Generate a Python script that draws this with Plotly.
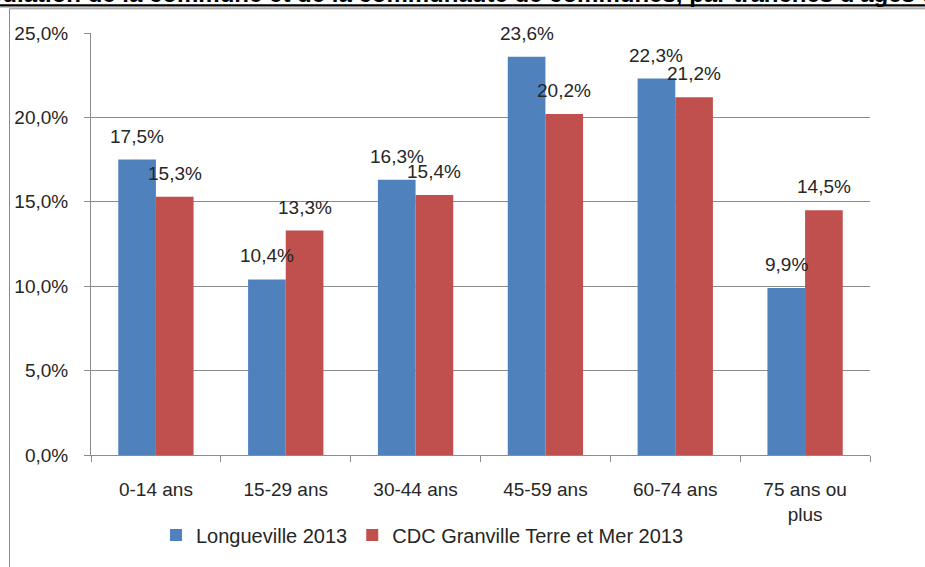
import plotly.graph_objects as go

# Age brackets and shares of population (%)
categories = ["0-14 ans", "15-29 ans", "30-44 ans", "45-59 ans", "60-74 ans", "75 ans ou<br>plus"]
longueville = [17.5, 10.4, 16.3, 23.6, 22.3, 9.9]
cdc_granville = [15.3, 13.3, 15.4, 20.2, 21.2, 14.5]
series_names = ["Longueville 2013", "CDC Granville Terre et Mer 2013"]
y_ticks = [0, 5, 10, 15, 20, 25]
title_text = "Population de la commune et de la communauté de communes, par tranches d'âges en 2013"

BLUE = "#4F81BD"
RED = "#C0504D"
GRID = "#8C8C8C"
TEXT = "#262626"
FONT = "Liberation Sans"

W, H = 925, 567
L, R, T, B = 91, 55, 33, 107
pw, ph = W - L - R, H - T - B


def px_to_paper_x(px):
    return (px - L) / pw


def px_to_paper_y(py):
    return (H - B - py) / ph


def fmt(v):
    return f"{v:.1f}".replace(".", ",") + "%"


fig = go.Figure()
fig.add_trace(go.Bar(x=categories, y=longueville, name=series_names[0],
                     marker=dict(color=BLUE, line=dict(width=0))))
fig.add_trace(go.Bar(x=categories, y=cdc_granville, name=series_names[1],
                     marker=dict(color=RED, line=dict(width=0))))

# Value labels above each bar
bar_w = pw / len(categories) * (1 - 0.42) / 2
annotations = []
for vals, shift in ((longueville, -bar_w / 2), (cdc_granville, bar_w / 2)):
    for c, v in zip(categories, vals):
        annotations.append(dict(
            x=c, y=v, xref="x", yref="y", text=fmt(v), showarrow=False,
            xshift=shift, yshift=11, yanchor="bottom", xanchor="center",
            font=dict(family=FONT, size=19, color=TEXT)))

# Title line, cut at the top edge of the frame
annotations.append(dict(
    x=px_to_paper_x(-45), y=px_to_paper_y(8.6), xref="paper", yref="paper",
    text="<b>" + title_text + "</b>", showarrow=False,
    xanchor="left", yanchor="bottom",
    font=dict(family=FONT, size=24, color="black")))

shapes = [
    # underline of the title
    dict(type="line", xref="paper", yref="paper",
         x0=px_to_paper_x(0), x1=px_to_paper_x(W),
         y0=px_to_paper_y(5), y1=px_to_paper_y(5),
         line=dict(color="black", width=2.2)),
    dict(type="line", xref="paper", yref="paper",
         x0=px_to_paper_x(0), x1=px_to_paper_x(W),
         y0=px_to_paper_y(7.2), y1=px_to_paper_y(7.2),
         line=dict(color="#C8C8C8", width=1.2)),
    # chart frame
    dict(type="rect", xref="paper", yref="paper",
         x0=px_to_paper_x(9.5), x1=px_to_paper_x(W + 20),
         y0=px_to_paper_y(H + 20), y1=px_to_paper_y(8.5),
         line=dict(color="#8A8A8A", width=1), fillcolor="rgba(0,0,0,0)",
         layer="below"),
]

fig.update_layout(
    width=W, height=H, autosize=False,
    margin=dict(l=L, r=R, t=T, b=B, pad=0),
    paper_bgcolor="white", plot_bgcolor="white",
    barmode="group", bargap=0.42, bargroupgap=0,
    font=dict(family=FONT, size=18, color=TEXT),
    showlegend=True,
    legend=dict(orientation="h", x=px_to_paper_x(156), y=px_to_paper_y(541),
                xanchor="left", yanchor="middle",
                font=dict(family=FONT, size=20, color=TEXT),
                itemwidth=30, tracegroupgap=0, bgcolor="rgba(0,0,0,0)"),
    annotations=annotations,
    shapes=shapes,
)

fig.update_yaxes(
    range=[0, 25], tickvals=y_ticks, ticktext=[fmt(v) for v in y_ticks],
    showgrid=True, gridcolor=GRID, gridwidth=1,
    showline=True, linecolor=GRID, linewidth=1,
    ticks="outside", ticklen=6, tickcolor=GRID,
    ticklabelstandoff=12, zeroline=False,
    tickfont=dict(family=FONT, size=19, color=TEXT),
)
fig.update_xaxes(
    showline=True, linecolor=GRID, linewidth=1,
    ticks="outside", ticklen=6, tickcolor=GRID, tickson="boundaries",
    ticklabelstandoff=17, showgrid=False,
    tickfont=dict(family=FONT, size=19, color=TEXT),
)

fig.write_html("out.html")
